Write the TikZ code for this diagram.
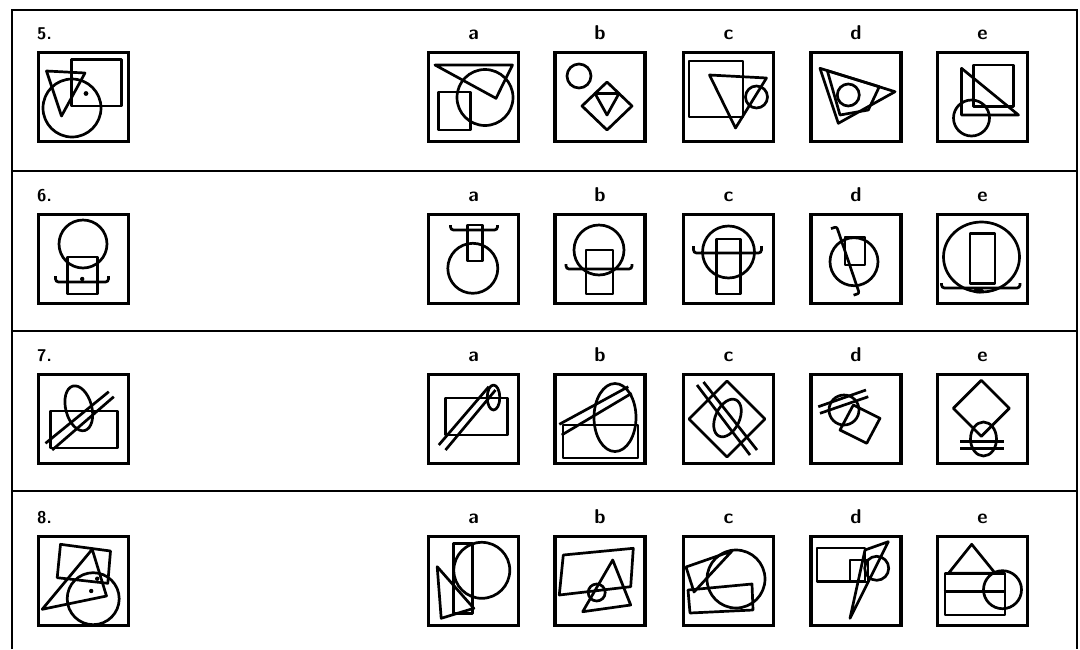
\documentclass[tikz,border=0pt]{standalone}
\usepackage{tikz}
\begin{document}
\begin{tikzpicture}[x=1pt, y=-1pt,
  panel/.style={draw, line width=3.3pt, minimum width=90pt, minimum height=89pt, inner sep=0pt},
  fig/.style={line width=2.7pt, line join=round},
  sep/.style={line width=2pt},
  qnum/.style={font=\fontsize{17}{17}\selectfont\sffamily\bfseries, anchor=base west, inner sep=0pt},
  opt/.style={font=\fontsize{20}{20}\selectfont\sffamily\bfseries, anchor=base, inner sep=0pt}]
  \useasboundingbox (0,0) rectangle (1080,649);
  % frame and row rules
  \draw[sep] (12,649) |- (1077,10) -- (1077,649);
  \foreach \y in {171,331,491} \draw[sep] (12,\y) -- (1077,\y);
  % panels and labels
  \foreach \r/\y in {5/97,6/259,7/419,8/581} {
    \node[panel] (q\r) at (83.5,\y) {};
    \node[qnum] (n\r) at (37,\y-58) {\r.};
    \foreach \c/\x in {a/473.5,b/600,c/728.5,d/856,e/982.5} {
      \node[panel] (q\r\c) at (\x,\y) {};
      \node[opt] (l\r\c) at (\x,\y-58) {\c};
    }
  }
  % row 5
  \begin{scope}[shift={(q5.center)}]
    \draw[fig] (-12,-37.5) rectangle (38,9);
    \draw[fig] (-11.5,11) circle[radius=29];
    \draw[fig] (-37,-26) -- (1.5,-24) -- (-22,19) -- cycle;
    \fill (2.5,-3.5) circle[radius=2.4];
  \end{scope}
  \begin{scope}[shift={(q5a.center)}]
    \draw[fig] (-38.5,-32) -- (39,-32) -- (22.5,1.3) -- cycle;
    \draw[fig] (11.5,0.5) circle[radius=28];
    \draw[fig] (-35,-5) rectangle (-3,33);
  \end{scope}
  \begin{scope}[shift={(q5b.center)}]
    \draw[fig] (-21,-21) circle[radius=12];
    \draw[fig] (7,-15) -- (32,9) -- (7,33) -- (-18,9) -- cycle;
    \draw[fig] (-5,-3.5) -- (19,-3.5) -- (7,18) -- cycle;
  \end{scope}
  \begin{scope}[shift={(q5c.center)}]
    \draw[fig] (-39.5,-36) rectangle (14.5,20);
    \draw[fig] (-19,-22) -- (38,-19) -- (7,31) -- cycle;
    \draw[fig] (28,0) circle[radius=11];
  \end{scope}
  \begin{scope}[shift={(q5d.center)}]
    \draw[fig] (-36,-28.7) -- (39,-5.3) -- (-17.7,26.3) -- cycle;
    \draw[fig] (-28.7,-26.3) -- (-16,18) -- (12.3,13) -- (23.3,-10.3) -- cycle;
    \draw[fig] (-7.7,-2) circle[radius=11];
  \end{scope}
  \begin{scope}[shift={(q5e.center)}]
    \draw[fig] (-9,-32) rectangle (31,9.7);
    \draw[fig] (-21,-28.7) -- (-21,18) -- (36,18) -- cycle;
    \draw[fig] (-11,21) circle[radius=18];
  \end{scope}
  % row 6
  \begin{scope}[shift={(q6.center)}]
    \draw[fig] (-0.5,-15) circle[radius=24];
    \draw[fig] (-16,-2) rectangle (14,35);
    \draw[fig, rounded corners=3pt] (-28,17) |- (25,23) -- (25,17);
    \fill (-1.3,20) circle[radius=2.2];
  \end{scope}
  \begin{scope}[shift={(q6a.center)}]
    \draw[fig, rounded corners=3pt] (-23,-34) |- (24,-29) -- (24,-34);
    \draw[fig] (-6,-34) rectangle (9,2);
    \draw[fig] (-0.7,9.3) circle[radius=25];
  \end{scope}
  \begin{scope}[shift={(q6b.center)}]
    \draw[fig] (-1,-9) circle[radius=25];
    \draw[fig] (-14,-9) rectangle (13,35);
    \draw[fig, rounded corners=3pt] (-34,5) |- (32,10) -- (32,5);
  \end{scope}
  \begin{scope}[shift={(q6c.center)}]
    \draw[fig] (0,-7) circle[radius=26];
    \draw[fig] (-12,-20) rectangle (12,35);
    \draw[fig, rounded corners=3pt] (-35,-13) |- (33,-6) -- (33,-13);
  \end{scope}
  \begin{scope}[shift={(q6d.center)}]
    \draw[fig] (-2,2.7) circle[radius=24];
    \draw[fig] (-11,-22) rectangle (9,6);
    \draw[fig, rounded corners=2pt] (-25,-30.4) -- (-19.3,-32.3) -- (3.3,34.3) -- (-2.4,36.2);
  \end{scope}
  \begin{scope}[shift={(q6e.center)}]
    \draw[fig] (-1,-2) ellipse[x radius=38, y radius=35];
    \draw[fig] (-12.5,-25.7) rectangle (12.5,24.3);
    \draw[fig, rounded corners=3pt] (-41,24) |- (37.5,29) -- (37.5,24);
    \fill (-4,32) ellipse[x radius=6, y radius=2.4];
  \end{scope}
  % row 7
  \begin{scope}[shift={(q7.center)}]
    \draw[fig] (-33,-8) rectangle (33.7,29);
    \draw[fig, rotate around={15:(-4.7,-10.7)}] (-4.7,-10.7) ellipse[x radius=13, y radius=23];
    \draw[fig] (-38,24.3) -- (25.3,-27.3);
    \draw[fig] (-31.3,31) -- (30.3,-22.3);
  \end{scope}
  \begin{scope}[shift={(q7a.center)}]
    \draw[fig] (-28,-21) rectangle (34,16);
    \draw[fig] (-34.7,26) -- (15.3,-32.3);
    \draw[fig] (-28,31) -- (22,-29);
    \draw[fig] (20,-21.5) ellipse[x radius=6.3, y radius=12.5];
  \end{scope}
  \begin{scope}[shift={(q7b.center)}]
    \draw[fig] (15,-1.5) ellipse[x radius=21, y radius=34];
    \draw[fig] (-37,6) rectangle (38,39);
    \draw[fig] (-40.7,5.3) -- (28.3,-32.3);
    \draw[fig] (-38.3,16) -- (31.7,-25.7);
  \end{scope}
  \begin{scope}[shift={(q7c.center)}]
    \draw[fig] (-1.5,-38) -- (36.5,0) -- (-1.5,38) -- (-39.5,0) -- cycle;
    \draw[fig, rotate around={-25:(-1,-1)}] (-1,-1) ellipse[x radius=12, y radius=20];
    \draw[fig] (-31.5,-34) -- (21.5,36);
    \draw[fig] (-25,-37) -- (28.5,31);
  \end{scope}
  \begin{scope}[shift={(q7d.center)}]
    \draw[fig] (-2.7,-14) -- (24,-0.7) -- (10.7,24.3) -- (-16,11) -- cycle;
    \draw[fig] (-12,-9) circle[radius=15];
    \draw[fig] (-37.7,-12.3) -- (10,-29);
    \draw[fig] (-36,-5.7) -- (12.3,-22.3);
  \end{scope}
  \begin{scope}[shift={(q7e.center)}]
    \draw[fig] (-1.2,-38.7) -- (26.8,-10.7) -- (-1.2,17.3) -- (-29.2,-10.7) -- cycle;
    \draw[fig] (1,20) ellipse[x radius=13, y radius=17];
    \draw[fig] (-22.5,22.7) -- (21,22.7);
    \draw[fig] (-22.5,29.3) -- (21,29.3);
  \end{scope}
  % row 8
  \begin{scope}[shift={(q8.center)}]
    \draw[fig] (-23,-36.7) -- (27,-30) -- (24.3,2.3) -- (-26.3,-3.3) -- cycle;
    \draw[fig] (-41.3,28.3) -- (8.7,-31.7) -- (23,15) -- cycle;
    \draw[fig] (9.7,17.7) circle[radius=26];
    \fill (13.7,-2.3) circle[radius=2.2];
    \fill (7.7,10) circle[radius=2.2];
  \end{scope}
  \begin{scope}[shift={(q8a.center)}]
    \draw[fig] (8.3,-10.7) circle[radius=28];
    \draw[fig] (-19.7,-37.7) rectangle (-1.3,32.3);
    \draw[fig] (-36.3,-14.3) -- (-32.3,37.3) -- (0.3,27.3) -- cycle;
  \end{scope}
  \begin{scope}[shift={(q8b.center)}]
    \draw[fig] (-36.7,-26) -- (33.3,-32.7) -- (30.7,5.7) -- (-40.7,14) -- cycle;
    \draw[fig] (12.7,-21) -- (-17.3,30.7) -- (30.7,24) -- cycle;
    \draw[fig] (-3.3,11.5) circle[radius=8.5];
  \end{scope}
  \begin{scope}[shift={(q8c.center)}]
    \draw[fig] (7.5,-2) circle[radius=29];
    \draw[fig] (-40.5,9) -- (23.5,3) -- (24.5,29) -- (-38.5,32) -- cycle;
    \draw[fig] (-42.5,-14) -- (3.5,-30) -- (-34.5,11) -- cycle;
  \end{scope}
  \begin{scope}[shift={(q8d.center)}]
    \draw[fig] (-39,-33) rectangle (9,0.7);
    \draw[fig] (-6,-21) rectangle (12,1);
    \draw[fig] (32.3,-39.3) -- (9,-31) -- (-6,37.3) -- cycle;
    \draw[fig] (20.7,-12.7) circle[radius=12];
  \end{scope}
  \begin{scope}[shift={(q8e.center)}]
    \draw[fig] (-10.8,-36.7) -- (-34,-7.7) -- (12.7,-7.7) -- cycle;
    \draw[fig] (-37.5,-7.7) rectangle (22.5,34);
    \draw[fig] (-39,10.7) -- (22.5,10.7);
    \draw[fig] (20,8.7) circle[radius=19];
  \end{scope}
\end{tikzpicture}
\end{document}
